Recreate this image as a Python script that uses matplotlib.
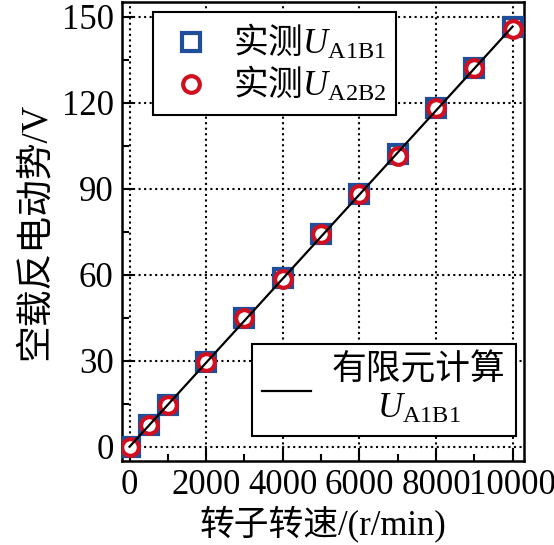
import matplotlib
matplotlib.use("Agg")
import matplotlib.pyplot as plt
from matplotlib.ticker import MultipleLocator

speed = [0, 500, 1000, 2000, 3000, 4000, 5000, 6000, 7000, 8000, 9000, 10000]
u_a1b1 = [0, 7.5, 14.5, 29.5, 45, 59, 74, 88, 102, 118, 132, 146.5]
u_a2b2 = [0, 7.5, 14.5, 29.5, 45, 58.5, 74, 88, 101.5, 118, 132, 145.5]
fem_speed = [0, 2000, 4000, 6000, 8000, 10000]
fem_u = [0, 29.3, 58.6, 87.9, 117.2, 146.5]

xticks = [0, 2000, 4000, 6000, 8000, 10000]
yticks = [0, 30, 60, 90, 120, 150]

plt.rcParams['font.family'] = ['Liberation Serif', 'Noto Sans CJK SC']
plt.rcParams['mathtext.fontset'] = 'custom'
plt.rcParams['mathtext.rm'] = 'Liberation Serif'
plt.rcParams['mathtext.it'] = 'Liberation Serif:italic'
plt.rcParams['font.size'] = 25

fig = plt.figure(figsize=(5.54, 5.45), dpi=100)
ax = fig.add_axes([0.220, 0.154, 0.726, 0.842])

blue = '#1f4f9a'
red = '#d01020'
sq, = ax.plot(speed, u_a1b1, 's', ms=13, mfc='white', mec=blue, mew=3, linestyle='none',
              label=r'实测$U_{\mathrm{A1B1}}$', zorder=3)
ci, = ax.plot(speed, u_a2b2, 'o', ms=12, mfc='white', mec=red, mew=3, linestyle='none',
              label=r'实测$U_{\mathrm{A2B2}}$', zorder=4)
ln, = ax.plot(fem_speed, fem_u, '-', color='black', lw=1.6, label='有限元计算\n' + r'$U_{\mathrm{A1B1}}$', zorder=5)

ax.set_xlim(-200, 10300)
ax.set_ylim(-5, 155)
ax.set_xticks(xticks)
ax.set_yticks(yticks)
ax.set_xticklabels([str(v) for v in xticks])
ax.xaxis.set_minor_locator(MultipleLocator(1000))
ax.yaxis.set_minor_locator(MultipleLocator(15))
ax.tick_params(which='both', direction='in', width=1.5, top=False, right=False)
ax.tick_params(which='major', length=8, pad=6)
ax.tick_params(which='minor', length=5)
ax.grid(True, which='major', linestyle=':', color='black', lw=1.5)
for s in ax.spines.values():
    s.set_linewidth(1.8)

ax.set_xlabel('转子转速/(r/min)', labelpad=2)
ax.set_ylabel('空载反电动势/V', labelpad=6, fontsize=26.5)

leg1 = ax.legend(handles=[sq, ci], loc='upper left', bbox_to_anchor=(0.077, 0.978),
                 frameon=True, fancybox=False, edgecolor='black', framealpha=1,
                 handletextpad=0.4, borderpad=0.3, labelspacing=0.1, handlelength=1.6,
                 borderaxespad=0,
                 prop={'family': ['Noto Sans CJK SC', 'Liberation Serif'], 'size': 25})
leg1.get_frame().set_linewidth(1.5)
ax.add_artist(leg1)
leg2 = ax.legend(handles=[ln], loc='lower right', bbox_to_anchor=(0.98, 0.054),
                 frameon=True, fancybox=False, edgecolor='black', framealpha=1,
                 handletextpad=0.6, borderpad=0.3, handlelength=1.4, borderaxespad=0)
leg2.get_frame().set_linewidth(1.5)
for t in leg2.get_texts():
    t.set_multialignment('center')

fig.savefig('out.png', dpi=100)
